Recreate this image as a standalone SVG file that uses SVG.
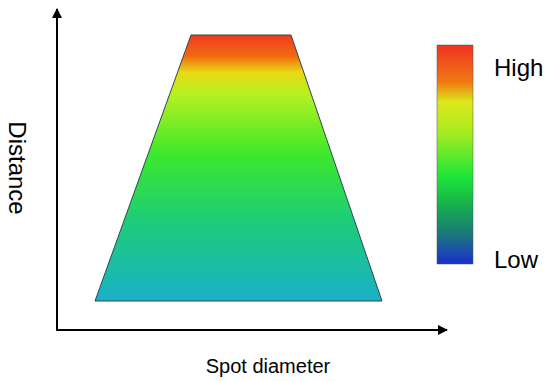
<svg xmlns="http://www.w3.org/2000/svg" width="550" height="381" viewBox="0 0 550 381">
<style>
text{font-family:"Helvetica","Liberation Sans",Arial,sans-serif;fill:#000}
.axis{stroke:#000;stroke-width:2;fill:none}
</style>
<defs>
<marker id="arr" viewBox="0 0 10 10" refX="9" refY="5" markerWidth="5" markerHeight="5" orient="auto" markerUnits="strokeWidth">
<path d="M0,0 L10,5 L0,10 Z" fill="#000"/>
</marker>
<linearGradient id="gTrap" x1="0" y1="35" x2="0" y2="301" gradientUnits="userSpaceOnUse">
<stop offset="0" stop-color="#f03a1e"/>
<stop offset="0.08" stop-color="#f26a10"/>
<stop offset="0.14" stop-color="#e8d814"/>
<stop offset="0.22" stop-color="#b8f020"/>
<stop offset="0.45" stop-color="#3ce82c"/>
<stop offset="0.7" stop-color="#1dcc78"/>
<stop offset="1" stop-color="#1ab0c8"/>
</linearGradient>
<linearGradient id="gBar" x1="0" y1="45" x2="0" y2="264" gradientUnits="userSpaceOnUse">
<stop offset="0" stop-color="#ef3222"/>
<stop offset="0.17" stop-color="#f07a12"/>
<stop offset="0.26" stop-color="#dce81a"/>
<stop offset="0.4" stop-color="#a6ec20"/>
<stop offset="0.6" stop-color="#1ee638"/>
<stop offset="0.73" stop-color="#16b04c"/>
<stop offset="0.86" stop-color="#1a7a78"/>
<stop offset="1" stop-color="#1a2ed0"/>
</linearGradient>
</defs>
<g id="connectors">
<line class="axis" x1="57" y1="331" x2="57" y2="9" marker-end="url(#arr)"/>
<line class="axis" x1="56" y1="330" x2="447" y2="330" marker-end="url(#arr)"/>
</g>
<g id="trapezoid">
<polygon points="191,35 291,35 382,301 95,301" fill="url(#gTrap)" stroke="#2a4a50" stroke-width="1"/>
</g>
<g id="colorbar">
<rect x="437" y="45" width="36" height="219" fill="url(#gBar)" stroke="#555" stroke-width="0.5"/>
<text x="494" y="76" font-size="24">High</text>
<text x="494" y="268" font-size="24">Low</text>
</g>
<g id="labels">
<text x="268" y="373" font-size="20" text-anchor="middle">Spot diameter</text>
<text transform="translate(9,168) rotate(90)" font-size="24" text-anchor="middle">Distance</text>
</g>
</svg>
